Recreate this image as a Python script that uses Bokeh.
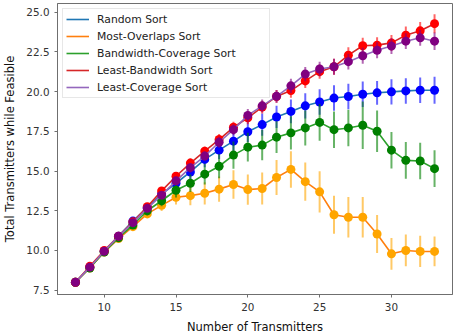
from bokeh.plotting import figure
from bokeh.models import Range1d, FixedTicker, PrintfTickFormatter, ColumnDataSource, Legend, LegendItem
from bokeh.embed import file_html
from bokeh.resources import INLINE

x = list(range(8, 34))

random_sort = [8.0, 8.95, 9.95, 10.9, 11.85, 12.7, 13.55, 14.23, 14.94, 15.73, 16.31, 16.88, 17.47,
               17.92, 18.4, 18.75, 19.1, 19.34, 19.59, 19.69, 19.83, 19.92, 19.98, 20.04, 20.08, 20.08]
random_err = [0.0, 0.05, 0.1, 0.15, 0.2, 0.25, 0.3, 0.35, 0.45, 0.5, 0.55, 0.6, 0.65,
              0.7, 0.7, 0.75, 0.8, 0.8, 0.8, 0.8, 0.8, 0.75, 0.8, 0.8, 0.8, 0.85]

most_overlaps = [8.0, 8.9, 9.9, 10.75, 11.5, 12.3, 12.84, 13.35, 13.45, 13.6, 13.86, 14.15, 13.83,
                 13.9, 14.59, 15.1, 14.33, 13.69, 12.25, 12.09, 12.09, 11.04, 9.79, 10.0, 9.94, 9.94]
most_overlaps_err = [0.0, 0.05, 0.1, 0.15, 0.2, 0.25, 0.35, 0.45, 0.6, 0.7, 0.8, 0.9, 0.95,
                     1.0, 1.1, 1.15, 1.2, 1.3, 1.2, 1.27, 1.27, 1.2, 1.0, 1.0, 0.98, 0.94]

bandwidth_coverage = [8.0, 8.9, 9.9, 10.8, 11.6, 12.5, 13.13, 13.79, 14.23, 14.8, 15.3, 16.0, 16.5,
                      16.63, 17.13, 17.4, 17.71, 18.06, 17.6, 17.71, 17.88, 17.5, 16.31, 15.67, 15.63, 15.15]
bandwidth_coverage_err = [0.0, 0.05, 0.1, 0.15, 0.2, 0.3, 0.35, 0.45, 0.55, 0.65, 0.75, 0.85, 0.9,
                          0.95, 1.0, 1.05, 1.1, 1.15, 1.15, 1.15, 1.5, 1.3, 1.15, 1.15, 1.15, 1.15]

least_bandwidth = [8.0, 9.0, 10.0, 10.9, 11.8, 12.75, 13.75, 14.67, 15.5, 16.25, 16.98, 17.75, 18.35,
                   19.02, 19.69, 20.06, 20.67, 21.25, 21.56, 22.29, 22.88, 22.92, 23.06, 23.54, 23.82, 24.27]
least_bandwidth_err = [0.0, 0.05, 0.08, 0.1, 0.12, 0.15, 0.2, 0.25, 0.3, 0.3, 0.35, 0.35, 0.4,
                       0.4, 0.4, 0.45, 0.45, 0.45, 0.5, 0.5, 0.5, 0.5, 0.5, 0.55, 0.55, 0.6]

least_coverage = [8.0, 8.95, 9.95, 10.9, 11.75, 12.65, 13.48, 14.38, 15.21, 15.94, 16.81, 17.6, 18.5,
                  19.1, 19.7, 20.36, 21.1, 21.42, 21.56, 21.88, 22.25, 22.6, 22.86, 23.17, 23.38, 23.17]
least_coverage_err = [0.0, 0.05, 0.08, 0.1, 0.12, 0.15, 0.2, 0.25, 0.3, 0.3, 0.35, 0.35, 0.4,
                      0.4, 0.4, 0.45, 0.45, 0.45, 0.5, 0.5, 0.5, 0.5, 0.5, 0.5, 0.5, 0.55]

labels = ["Random Sort", "Most-Overlaps Sort", "Bandwidth-Coverage Sort",
          "Least-Bandwidth Sort", "Least-Coverage Sort"]
series = [random_sort, most_overlaps, bandwidth_coverage, least_bandwidth, least_coverage]
errors = [random_err, most_overlaps_err, bandwidth_coverage_err, least_bandwidth_err, least_coverage_err]
line_colors = ["#1f77b4", "#ff7f0e", "#2ca02c", "#d62728", "#9467bd"]
marker_colors = ["blue", "orange", "green", "red", "purple"]

x_ticks = [10, 15, 20, 25, 30]
y_ticks = [7.5, 10.0, 12.5, 15.0, 17.5, 20.0, 22.5, 25.0]

FONT = "DejaVu Sans"
SPINE = "#6f6f6f"

p = figure(width=455, height=336, output_backend="svg", toolbar_location=None,
           x_range=Range1d(6.75, 34.25), y_range=Range1d(7.23, 25.54),
           min_border_left=57, min_border_right=3, min_border_top=3, min_border_bottom=40)
p.background_fill_color = "white"
p.border_fill_color = "white"
p.outline_line_color = SPINE
p.outline_line_width = 1
p.xgrid.visible = False
p.ygrid.visible = False

legend_items = []
for ys, es, lc, mc, lab in zip(series, errors, line_colors, marker_colors, labels):
    src = ColumnDataSource(dict(x=x, y=ys,
                                lo=[v - e for v, e in zip(ys, es)],
                                hi=[v + e for v, e in zip(ys, es)]))
    ln = p.line("x", "y", source=src, line_color=lc, line_width=1.6)
    p.segment(x0="x", y0="lo", x1="x", y1="hi", source=src, line_color=mc,
              line_alpha=0.6, line_width=2)
    p.scatter("x", "y", source=src, marker="circle", size=9, fill_color=mc,
              line_color=mc, line_width=0)
    legend_items.append(LegendItem(label=lab, renderers=[ln]))

legend = Legend(items=legend_items, location="top_left")
legend.label_text_font = FONT
legend.label_text_font_size = "10.8px"
legend.label_text_color = "#222222"
legend.label_height = 14
legend.glyph_height = 14
legend.glyph_width = 23
legend.label_width = 169
legend.spacing = 3
legend.padding = 3
legend.margin = 5
legend.label_standoff = 8
legend.border_line_color = "#d0d0d0"
legend.border_line_width = 1
legend.background_fill_alpha = 0.8
p.add_layout(legend)

for ax in (p.xaxis[0], p.yaxis[0]):
    ax.axis_line_color = SPINE
    ax.major_tick_line_color = SPINE
    ax.major_tick_out = 3
    ax.major_tick_in = 0
    ax.minor_tick_line_color = None
    ax.major_label_text_font = FONT
    ax.major_label_text_font_size = "10.4px"
    ax.major_label_text_color = "#333333"
    ax.axis_label_text_font = FONT
    ax.axis_label_text_font_size = "11.5px"
    ax.axis_label_text_font_style = "normal"
    ax.axis_label_text_color = "#111111"
    ax.major_label_standoff = 5
    ax.axis_label_standoff = 6

p.xaxis.ticker = FixedTicker(ticks=x_ticks)
p.yaxis.ticker = FixedTicker(ticks=y_ticks)
p.yaxis.formatter = PrintfTickFormatter(format="%.1f")
p.xaxis.axis_label = "Number of Transmitters"
p.yaxis.axis_label = "Total Transmitters while Feasible"

open("out.html", "w").write(file_html(p, INLINE))
